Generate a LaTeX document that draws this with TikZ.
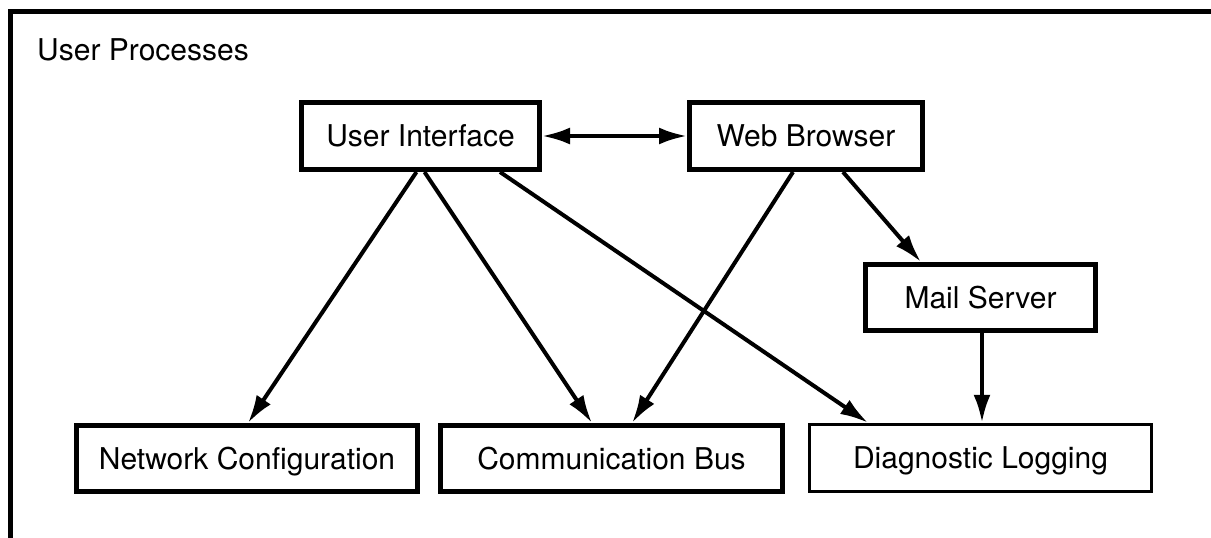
\documentclass[tikz,border=0pt]{standalone}
\usepackage{fontspec}
\setmainfont{TeX Gyre Heros}
\usetikzlibrary{arrows.meta}
\tikzstyle{block} = [draw, line width=5pt, rectangle, inner sep=0pt, text height=21pt, text depth=0pt, font=\fontsize{30}{34}\selectfont]
\tikzstyle{thinblock} = [block, line width=3.5pt]
\tikzstyle{link} = [line width=4pt]

\begin{document}
\begin{tikzpicture}[x=1pt, y=-1pt, >={Latex[length=28pt,width=17pt]}]
  \useasboundingbox (0,0) rectangle (1211,538);
  % frame, only top and left are visible
  \draw [line width=5pt] (10.5,538) -- (10.5,11.5) -- (1211,11.5);
  \node [anchor=base west, inner sep=0pt, font=\fontsize{30}{34}\selectfont] (title) at (37,60) {User Processes};

  \node [block, minimum width=238pt, minimum height=67pt] (ui) at (420.5,136) {User Interface};
  \node [block, minimum width=233pt, minimum height=67pt] (wb) at (806,136) {Web Browser};
  \node [block, minimum width=230pt, minimum height=66pt] (ms) at (980.5,297.5) {Mail Server};
  \node [block, minimum width=341pt, minimum height=66pt] (nc) at (247,458.5) {Network Configuration};
  \node [block, minimum width=342pt, minimum height=66pt] (cb) at (611.5,458.5) {Communication Bus};
  \node [thinblock, minimum width=342pt, minimum height=67pt] (dl) at (980.5,458) {Diagnostic Logging};

  \draw [link, <->] (ui) -- (wb);
  \draw [link, ->] ([xshift=-4]ui.south) -- ([xshift=1]nc.north);
  \draw [link, ->] ([xshift=4]ui.south) -- ([xshift=-19.5]cb.north);
  \draw [link, ->] ([xshift=79.5]ui.south) -- ([xshift=-112.5]dl.north);
  \draw [link, ->] ([xshift=-13]wb.south) -- ([xshift=20.5]cb.north);
  \draw [link, ->] ([xshift=37]wb.south) -- ([xshift=-59.5]ms.north);
  \draw [link, ->] ([xshift=1.5]ms.south) -- ([xshift=1.5]dl.north);
\end{tikzpicture}
\end{document}
